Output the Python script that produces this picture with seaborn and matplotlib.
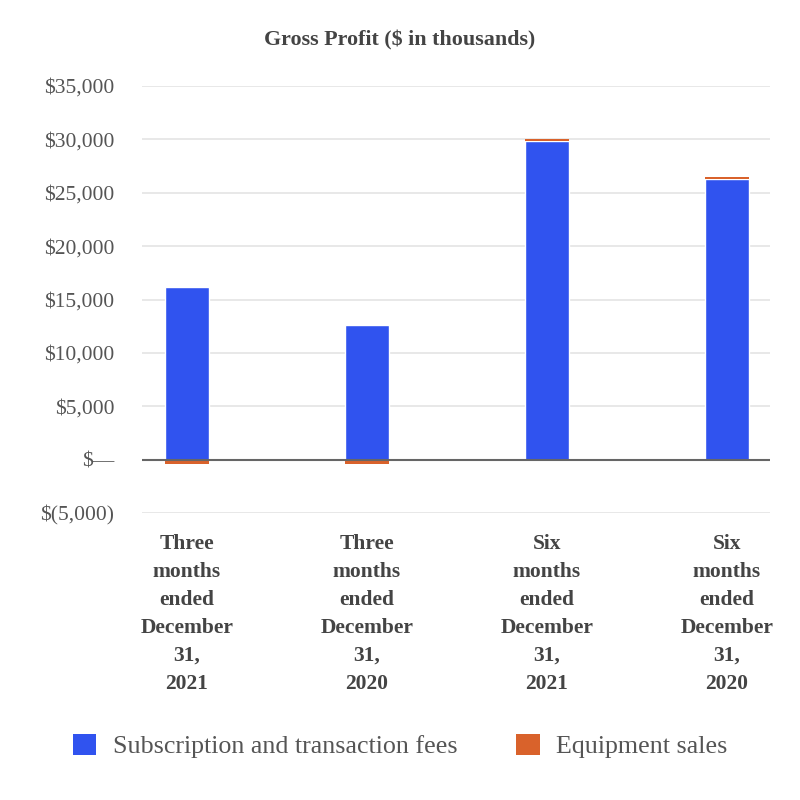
import matplotlib
matplotlib.use("Agg")
import matplotlib.pyplot as plt
import seaborn as sns
import numpy as np
import pandas as pd
from matplotlib.patches import Patch
from matplotlib.ticker import FuncFormatter

periods = ["Three\nmonths\nended\nDecember\n31,\n2021",
           "Three\nmonths\nended\nDecember\n31,\n2020",
           "Six\nmonths\nended\nDecember\n31,\n2021",
           "Six\nmonths\nended\nDecember\n31,\n2020"]
subscription = [16150, 12600, 29850, 26250]
equipment = [-400, -400, 200, 180]
series_names = ["Subscription and transaction fees", "Equipment sales"]
title = "Gross Profit ($ in thousands)"

BLUE = "#3053ef"
ORANGE = "#d9622b"

sns.set_theme(style="white")
plt.rcParams['font.family'] = ['Liberation Serif', 'DejaVu Serif']

fig = plt.figure(figsize=(8, 8), dpi=100)
ax = fig.add_axes([0.1775, 0.35875, 0.785, 0.53375])

df = pd.DataFrame({"period": periods, "value": subscription})
sns.barplot(data=df, x="period", y="value", color=BLUE, width=0.244,
            saturation=1, ax=ax, zorder=3)
eq = np.array(equipment)
sub = np.array(subscription)
bottoms = np.where(eq >= 0, sub, 0)
ax.bar(np.arange(len(periods)), eq, bottom=bottoms, width=0.244,
       color=ORANGE, zorder=3, linewidth=0)

ax.set_ylim(-5000, 35000)
ax.set_xlim(-0.25, 3.24)
ax.set_yticks(np.arange(-5000, 35001, 5000))

def fmt(v, pos):
    v = int(round(v))
    if v == 0:
        return "$\u2014"
    if v < 0:
        return "$({:,})".format(-v)
    return "${:,}".format(v)

ax.yaxis.set_major_formatter(FuncFormatter(fmt))
ax.grid(axis="y", color="#e6e6e6", linewidth=1.3, zorder=0)
ax.axhline(0, color="#666666", linewidth=1.5, zorder=4)
for s in ax.spines.values():
    s.set_visible(False)
ax.tick_params(axis="y", length=0, pad=20, labelsize=15.5, labelcolor="#555555")
ax.tick_params(axis="x", length=0, pad=15, labelsize=15.5, labelcolor="#444444")
for lbl in ax.get_xticklabels():
    lbl.set_fontweight("bold")
    lbl.set_linespacing(1.53)
    lbl.set_verticalalignment("top")
ax.set_xlabel("")
ax.set_ylabel("")

fig.text(0.5, 0.949, title, ha="center", va="center", fontsize=15.8,
         fontweight="bold", color="#444444")

handles = [Patch(facecolor=BLUE, edgecolor="none"),
           Patch(facecolor=ORANGE, edgecolor="none")]
fig.legend(handles, series_names, loc="center", bbox_to_anchor=(0.5, 0.0675),
           ncol=2, frameon=False, fontsize=18.7, handlelength=0.92,
           handleheight=0.92, handletextpad=0.62, columnspacing=2.27,
           labelcolor="#555555")

fig.savefig("out.png", dpi=100)
